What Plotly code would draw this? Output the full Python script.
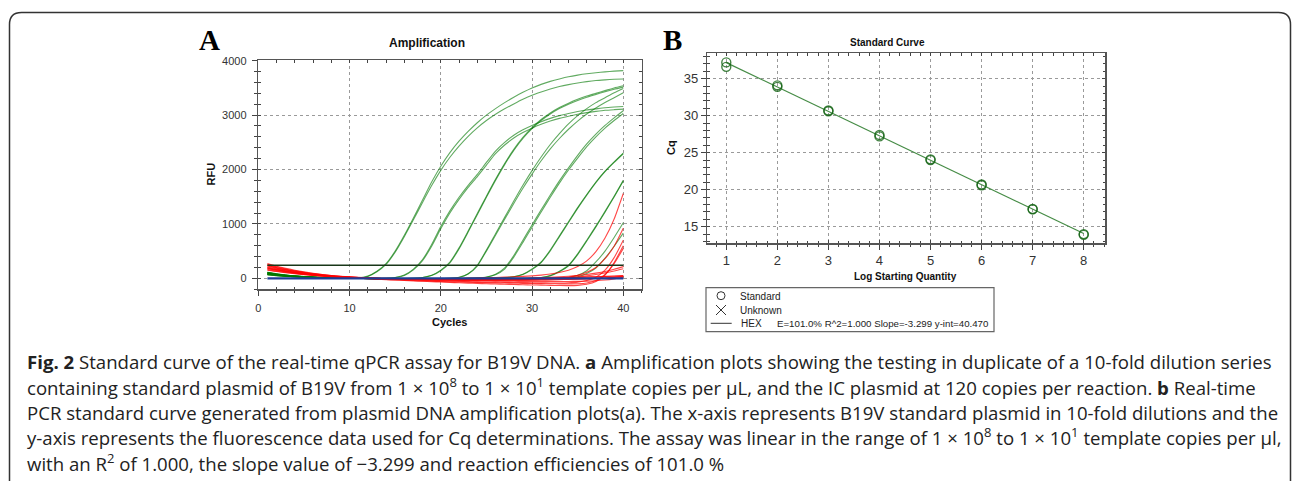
import plotly.graph_objects as go

W, H = 1292, 481


def px(x):
    return x / W


def py(y):
    return 1 - y / H


# ---------------- Panel A data (RFU per cycle) ----------------
CYCLES = list(range(1, 41))

G1A = [95, 70, 52, 38, 27, 18, 11, 6, 2, 0, 6, 40, 130, 270, 500, 790, 1110, 1440, 1770, 2060,
       2310, 2520, 2700, 2860, 3000, 3120, 3230, 3330, 3420, 3500, 3565, 3620, 3665, 3705, 3735, 3760, 3780, 3795, 3808, 3818]
G1B = [80, 60, 45, 33, 23, 15, 9, 4, 1, -1, 4, 35, 120, 255, 480, 765, 1075, 1395, 1705, 1985,
       2225, 2430, 2610, 2765, 2900, 3015, 3115, 3205, 3290, 3365, 3425, 3480, 3525, 3560, 3590, 3615, 3635, 3648, 3658, 3665]
G2A = [110, 82, 60, 44, 32, 22, 14, 8, 4, 1, -1, -2, -2, 0, 15, 60, 170, 345, 620, 950,
       1240, 1490, 1710, 1910, 2130, 2340, 2500, 2630, 2730, 2810, 2880, 2940, 2990, 3030, 3065, 3095, 3115, 3135, 3148, 3158]
G2B = [75, 57, 42, 31, 22, 15, 9, 5, 2, 0, -2, -3, -3, 0, 12, 52, 155, 325, 590, 910,
       1200, 1450, 1670, 1870, 2080, 2290, 2450, 2580, 2680, 2760, 2830, 2890, 2940, 2980, 3015, 3045, 3068, 3088, 3100, 3110]
G3A = [100, 75, 56, 41, 30, 21, 13, 8, 4, 1, -1, -3, -4, -5, -5, -4, 0, 15, 55, 150,
       300, 560, 870, 1190, 1510, 1820, 2110, 2370, 2590, 2770, 2920, 3040, 3140, 3220, 3290, 3350, 3400, 3450, 3500, 3540]
G3B = [65, 50, 38, 28, 20, 13, 8, 4, 1, -1, -3, -4, -5, -6, -6, -5, -2, 12, 50, 140,
       285, 540, 850, 1170, 1490, 1800, 2090, 2350, 2570, 2750, 2900, 3020, 3120, 3200, 3270, 3330, 3380, 3430, 3475, 3515]
G4A = [90, 68, 50, 37, 27, 19, 12, 7, 3, 0, -2, -4, -5, -6, -7, -7, -7, -6, -5, -3,
       2, 18, 85, 240, 520, 820, 1120, 1420, 1710, 1980, 2230, 2460, 2660, 2840, 2990, 3120, 3230, 3320, 3410, 3490]
G4B = [70, 53, 40, 30, 21, 14, 9, 5, 2, 0, -3, -5, -6, -7, -8, -8, -8, -7, -6, -4,
       0, 15, 78, 225, 500, 790, 1085, 1375, 1655, 1915, 2160, 2380, 2570, 2740, 2890, 3020, 3130, 3230, 3320, 3410]
G5A = [105, 78, 58, 43, 31, 22, 14, 8, 4, 1, -1, -3, -5, -6, -7, -8, -8, -8, -8, -7,
       -6, -4, 0, 8, 25, 75, 190, 420, 700, 980, 1260, 1530, 1790, 2030, 2260, 2470, 2650, 2810, 2950, 3080]
G5B = [85, 64, 48, 35, 25, 17, 10, 5, 2, 0, -2, -4, -6, -7, -8, -9, -9, -9, -9, -8,
       -7, -5, -2, 5, 20, 65, 170, 390, 660, 940, 1220, 1490, 1750, 1990, 2210, 2420, 2600, 2760, 2900, 3030]
G6A = [95, 71, 53, 39, 28, 19, 12, 7, 3, 0, -2, -4, -6, -7, -8, -9, -9, -10, -10, -10,
       -9, -8, -7, -5, -2, 3, 12, 30, 75, 170, 300, 520, 780, 1040, 1300, 1540, 1770, 1970, 2140, 2300]
G6B = [80, 60, 45, 33, 24, 16, 10, 5, 2, 0, -2, -5, -7, -8, -9, -10, -10, -11, -11, -11,
       -10, -9, -8, -6, -3, 2, 10, 27, 70, 160, 290, 505, 765, 1025, 1285, 1530, 1760, 1960, 2130, 2290]
G7A = [100, 75, 56, 41, 30, 21, 13, 8, 4, 1, -1, -3, -5, -6, -7, -8, -9, -9, -10, -10,
       -10, -10, -10, -9, -9, -8, -7, -5, -2, 3, 15, 50, 130, 240, 450, 700, 960, 1230, 1510, 1800]
G7B = [60, 46, 35, 26, 18, 12, 7, 3, 1, -1, -3, -5, -6, -7, -8, -9, -10, -10, -11, -11,
       -11, -11, -11, -10, -10, -9, -8, -6, -3, 1, 12, 45, 122, 230, 435, 685, 945, 1215, 1495, 1790]
G8A = [110, 82, 61, 45, 32, 22, 14, 8, 4, 1, -1, -3, -5, -6, -7, -8, -9, -10, -10, -11,
       -11, -11, -11, -11, -11, -10, -10, -9, -8, -7, -5, -2, 3, 15, 55, 140, 300, 500, 750, 1020]
G8B = [70, 53, 40, 30, 21, 14, 9, 5, 2, 0, -2, -4, -6, -7, -8, -9, -10, -11, -11, -12,
       -12, -12, -12, -12, -12, -11, -11, -10, -9, -8, -7, -5, -2, 5, 30, 90, 190, 370, 590, 830]
GREEN_CURVES = [G1A, G1B, G2A, G2B, G3A, G3B, G4A, G4B, G5A, G5B, G6A, G6B, G7A, G7B, G8A, G8B]

R01 = [270, 222, 182, 148, 118, 92, 71, 53, 39, 27, 17, 9, 3, -2, -5, -7, -8, -8, -7, -5,
       -3, 0, 3, 7, 11, 16, 21, 27, 35, 45, 58, 78, 108, 150, 215, 320, 490, 740, 1090, 1560]
R02 = [245, 200, 163, 132, 105, 82, 62, 46, 33, 22, 13, 6, 0, -5, -9, -12, -15, -17, -19, -20,
       -21, -22, -23, -24, -25, -25, -25, -25, -24, -22, -18, -10, 2, 22, 55, 110, 200, 360, 590, 920]
R03 = [225, 185, 150, 121, 96, 74, 56, 41, 28, 17, 8, 0, -7, -14, -20, -26, -32, -38, -43, -48,
       -53, -57, -61, -65, -68, -71, -74, -77, -79, -81, -83, -85, -86, -82, -70, -40, 20, 150, 380, 700]
R04 = [210, 172, 140, 112, 88, 67, 49, 34, 21, 10, 1, -8, -16, -24, -32, -40, -48, -55, -62, -69,
       -76, -82, -88, -94, -100, -105, -110, -114, -118, -122, -126, -130, -133, -135, -130, -110, -60, 60, 290, 600]
R05 = [190, 156, 127, 102, 80, 61, 45, 31, 19, 9, 0, -8, -15, -22, -29, -35, -41, -47, -53, -58,
       -63, -68, -72, -76, -80, -84, -87, -90, -93, -96, -98, -100, -102, -103, -100, -85, -40, 70, 270, 550]
R06 = [200, 164, 134, 108, 86, 67, 51, 38, 27, 18, 10, 4, -1, -5, -8, -10, -12, -13, -14, -14,
       -14, -14, -13, -12, -11, -9, -7, -4, 0, 5, 11, 18, 27, 38, 52, 70, 95, 125, 165, 215]
R07 = [175, 144, 118, 96, 77, 60, 46, 34, 24, 15, 8, 2, -3, -7, -11, -14, -17, -20, -22, -24,
       -26, -27, -28, -29, -29, -29, -28, -26, -23, -19, -14, -8, 0, 10, 25, 45, 70, 100, 135, 175]
R08 = [160, 132, 108, 88, 70, 55, 42, 31, 22, 14, 8, 3, -1, -4, -7, -9, -11, -12, -13, -14,
       -14, -14, -14, -13, -12, -11, -9, -7, -4, -1, 2, 6, 10, 14, 19, 24, 29, 34, 39, 45]
R09 = [150, 124, 102, 83, 67, 53, 41, 30, 21, 13, 6, 0, -5, -10, -14, -18, -21, -24, -27, -29,
       -31, -33, -34, -35, -36, -36, -36, -35, -34, -32, -30, -27, -23, -19, -14, -8, -1, 7, 17, 28]
R10 = [260, 212, 172, 139, 111, 87, 67, 50, 36, 24, 14, 6, -1, -7, -13, -18, -23, -27, -31, -35,
       -38, -41, -44, -47, -49, -51, -53, -55, -56, -57, -58, -59, -59, -58, -56, -52, -45, -32, -10, 20]
R11 = [235, 192, 157, 127, 101, 79, 61, 45, 32, 21, 12, 5, -1, -5, -9, -12, -14, -16, -17, -18,
       -18, -18, -18, -17, -16, -14, -12, -10, -7, -4, -1, 3, 7, 12, 17, 23, 29, 35, 42, 50]
R12 = [185, 152, 125, 101, 81, 63, 48, 35, 24, 15, 7, 1, -4, -9, -13, -17, -20, -23, -26, -28,
       -30, -32, -33, -34, -35, -36, -36, -36, -35, -34, -32, -29, -25, -21, -16, -10, -3, 5, 18, 35]
RED_CURVES = [R01, R02, R03, R04, R05, R06, R07, R08, R09, R10, R11, R12]

THRESHOLD_RFU = 240
BASELINE_RFU = 0
LINE_CYCLES = [1, 40]

# ---------------- Panel B data ----------------
LOG_QTY = [1, 1, 2, 2, 3, 3, 4, 4, 5, 5, 6, 6, 7, 7, 8, 8]
CQ = [37.2, 36.6, 34.1, 33.9, 30.7, 30.6, 27.4, 27.2, 24.1, 24.0, 20.7, 20.6, 17.4, 17.35, 14.0, 13.9]
SLOPE = -3.299
Y_INT = 40.470
R_SQUARED = 1.000
FIT_X = [1, 8]

fig = go.Figure()

GREEN = "rgba(0,120,0,0.62)"
RED = "rgba(255,0,0,0.72)"

for curve in GREEN_CURVES:
    fig.add_trace(go.Scatter(x=CYCLES, y=curve, mode="lines", xaxis="x", yaxis="y",
                             line=dict(color=GREEN, width=1.1, shape="spline", smoothing=0.6),
                             hoverinfo="skip", showlegend=False))
for curve in RED_CURVES:
    fig.add_trace(go.Scatter(x=CYCLES, y=curve, mode="lines", xaxis="x", yaxis="y",
                             line=dict(color=RED, width=1.1, shape="spline", smoothing=0.6),
                             hoverinfo="skip", showlegend=False))
fig.add_trace(go.Scatter(x=LINE_CYCLES, y=[THRESHOLD_RFU] * 2, mode="lines", xaxis="x", yaxis="y",
                         line=dict(color="rgb(25,55,25)", width=1.6), hoverinfo="skip", showlegend=False))
fig.add_trace(go.Scatter(x=LINE_CYCLES, y=[BASELINE_RFU] * 2, mode="lines", xaxis="x", yaxis="y",
                         line=dict(color="rgb(30,60,150)", width=2.2), hoverinfo="skip", showlegend=False))

# Panel B
fit_y = [Y_INT + SLOPE * x for x in FIT_X]
fig.add_trace(go.Scatter(x=FIT_X, y=fit_y, mode="lines", xaxis="x2", yaxis="y2",
                         line=dict(color="rgb(70,140,70)", width=1.2), hoverinfo="skip", showlegend=False))
fig.add_trace(go.Scatter(x=LOG_QTY, y=CQ, mode="markers", xaxis="x2", yaxis="y2",
                         marker=dict(symbol="circle-open", size=9, color="rgba(20,100,20,0.8)",
                                     line=dict(width=1.4)),
                         hoverinfo="skip", showlegend=False))
# dummy traces for overlay tick axes
fig.add_trace(go.Scatter(x=[None], y=[None], xaxis="x3", yaxis="y3", showlegend=False, hoverinfo="skip"))
fig.add_trace(go.Scatter(x=[None], y=[None], xaxis="x4", yaxis="y4", showlegend=False, hoverinfo="skip"))

SANS = "Liberation Sans, Arial, sans-serif"
AXC = "#555"
TKC = "#444"

A_X = [px(258.3), px(641.7)]
A_Y = [py(289.3), py(60.0)]
A_XR = [0, 42.02]
A_YR = [-202, 4013]
B_X = [px(707.3), px(1105)]
B_Y = [py(243.3), py(53.3)]
B_XR = [0.628, 8.417]
B_YR = [12.76, 38.43]


def main_axis(domain, rng, dtick, minor_dtick, anchor, fsize, standoff=0):
    return dict(domain=domain, range=rng, anchor=anchor, dtick=dtick, tick0=0,
                ticks="outside", ticklen=5, tickwidth=1, tickcolor=TKC,
                ticklabelstandoff=standoff,
                showline=True, linecolor=AXC, linewidth=1.5, mirror=True,
                showgrid=True, gridcolor="#9a9a9a", griddash="dot", gridwidth=1,
                zeroline=False, tickfont=dict(family=SANS, size=fsize, color="#333"),
                minor=dict(dtick=minor_dtick, tick0=0, ticks="outside", ticklen=2.5,
                           tickwidth=1, tickcolor=TKC, showgrid=False),
                automargin=False, fixedrange=True)


def overlay_axis(rng, dtick, minor_dtick, overlaying, anchor, side):
    return dict(range=rng, overlaying=overlaying, anchor=anchor, side=side, dtick=dtick, tick0=0,
                ticks="inside", ticklen=3, tickwidth=1, tickcolor=TKC, mirror="ticks",
                showline=True, linecolor=AXC, linewidth=1.5,
                showgrid=False, zeroline=False, showticklabels=False,
                minor=dict(dtick=minor_dtick, tick0=0, ticks="inside", ticklen=2.5,
                           tickwidth=1, tickcolor=TKC, showgrid=False),
                automargin=False, fixedrange=True)


fig.update_layout(
    width=W, height=H, margin=dict(l=0, r=0, t=0, b=0, pad=0, autoexpand=False),
    paper_bgcolor="white", plot_bgcolor="white", showlegend=False,
    xaxis=main_axis(A_X, A_XR, 10, 2, "y", 11, standoff=3),
    yaxis=main_axis(A_Y, A_YR, 1000, 200, "x", 11, standoff=3),
    xaxis2=main_axis(B_X, B_XR, 1, 0.2, "y2", 13),
    yaxis2=main_axis(B_Y, B_YR, 5, 1, "x2", 13),
    xaxis3=overlay_axis(A_XR, 10, 2, "x", "y3", "bottom"),
    yaxis3=overlay_axis(A_YR, 1000, 200, "y", "x3", "left"),
    xaxis4=overlay_axis(B_XR, 1, 0.2, "x2", "y4", "bottom"),
    yaxis4=overlay_axis(B_YR, 5, 1, "y2", "x4", "left"),
)

ann = []


def text(x, y, s, size, xanchor="center", yanchor="middle", family=SANS, color="#111",
         angle=0, weight="normal"):
    ann.append(dict(x=px(x), y=py(y), xref="paper", yref="paper", text=s, showarrow=False,
                    xanchor=xanchor, yanchor=yanchor, textangle=angle,
                    font=dict(family=family, size=size, color=color, weight=weight)))


SERIF = "Liberation Serif, Times New Roman, serif"
text(209, 40, "A", 29, family=SERIF, color="#000", weight="bold")
text(672.5, 39.5, "B", 29, family=SERIF, color="#000", weight="bold")
text(427, 43, "Amplification", 12, weight="bold")
text(887, 42, "Standard Curve", 10, weight="bold")
text(210.5, 174, "RFU", 11, angle=-90, weight="bold")
text(449, 322, "Cycles", 11, weight="bold")
text(671, 148, "Cq", 11, angle=-90, weight="bold")
text(905, 276, "Log Starting Quantity", 10, weight="bold")

# legend of panel B
efficiency = (10 ** (-1 / SLOPE) - 1) * 100
stats = f"E={efficiency:.1f}% R^2={R_SQUARED:.3f} Slope={SLOPE:.3f} y-int={Y_INT:.3f}"
text(738, 296, "Standard", 10, xanchor="left", color="#222")
text(738, 310, "Unknown", 10, xanchor="left", color="#222")
text(739, 323.5, "HEX", 10, xanchor="left", color="#222")
text(775, 323.5, stats, 9.7, xanchor="left", color="#222")

# caption
CAP = "Open Sans, Noto Sans, sans-serif"
CAPTION_LINES = [
    "<b>Fig. 2</b> Standard curve of the real-time qPCR assay for B19V DNA. <b>a</b> Amplification plots showing the testing in duplicate of a 10-fold dilution series",
    "containing standard plasmid of B19V from 1 × 10<sup>8</sup> to 1 × 10<sup>1</sup> template copies per μL, and the IC plasmid at 120 copies per reaction. <b>b</b> Real-time",
    "PCR standard curve generated from plasmid DNA amplification plots(a). The x-axis represents B19V standard plasmid in 10-fold dilutions and the",
    "y-axis represents the fluorescence data used for Cq determinations. The assay was linear in the range of 1 × 10<sup>8</sup> to 1 × 10<sup>1</sup> template copies per μl,",
    "with an R<sup>2</sup> of 1.000, the slope value of −3.299 and reaction efficiencies of 101.0 %",
]
for i, line in enumerate(CAPTION_LINES):
    text(25, 376.5 + i * 25.3, line, 18.6, xanchor="left", yanchor="bottom", family=CAP, color="#222")

fig.update_layout(annotations=ann)

shapes = []
# outer rounded frame
xl, xr, yt = px(9.5), px(1290.5), py(12.5)
rh, rv = 12 / W, 12 / H
shapes.append(dict(type="path", xref="paper", yref="paper",
                   path=f"M {xl},-0.02 L {xl},{yt - rv} Q {xl},{yt} {xl + rh},{yt} "
                        f"L {xr - rh},{yt} Q {xr},{yt} {xr},{yt - rv} L {xr},-0.02",
                   line=dict(color="#333", width=1.5)))
# legend box
shapes.append(dict(type="rect", xref="paper", yref="paper", x0=px(706), x1=px(994), y0=py(331.7), y1=py(287.7),
                   line=dict(color="#666", width=1.2), fillcolor="white", layer="below"))
shapes.append(dict(type="circle", xref="paper", yref="paper", x0=px(717), x1=px(725), y0=py(299.7), y1=py(291.7),
                   line=dict(color="#333", width=1)))
shapes.append(dict(type="line", xref="paper", yref="paper", x0=px(716), x1=px(726), y0=py(305), y1=py(315),
                   line=dict(color="#333", width=1)))
shapes.append(dict(type="line", xref="paper", yref="paper", x0=px(716), x1=px(726), y0=py(315), y1=py(305),
                   line=dict(color="#333", width=1)))
shapes.append(dict(type="line", xref="paper", yref="paper", x0=px(710.7), x1=px(731.7), y0=py(323.3), y1=py(323.3),
                   line=dict(color="#333", width=1)))
fig.update_layout(shapes=shapes)

fig.write_html("out.html", config={"displayModeBar": False, "staticPlot": True},
               post_script="document.body.style.margin='0';document.body.style.overflow='hidden';")
